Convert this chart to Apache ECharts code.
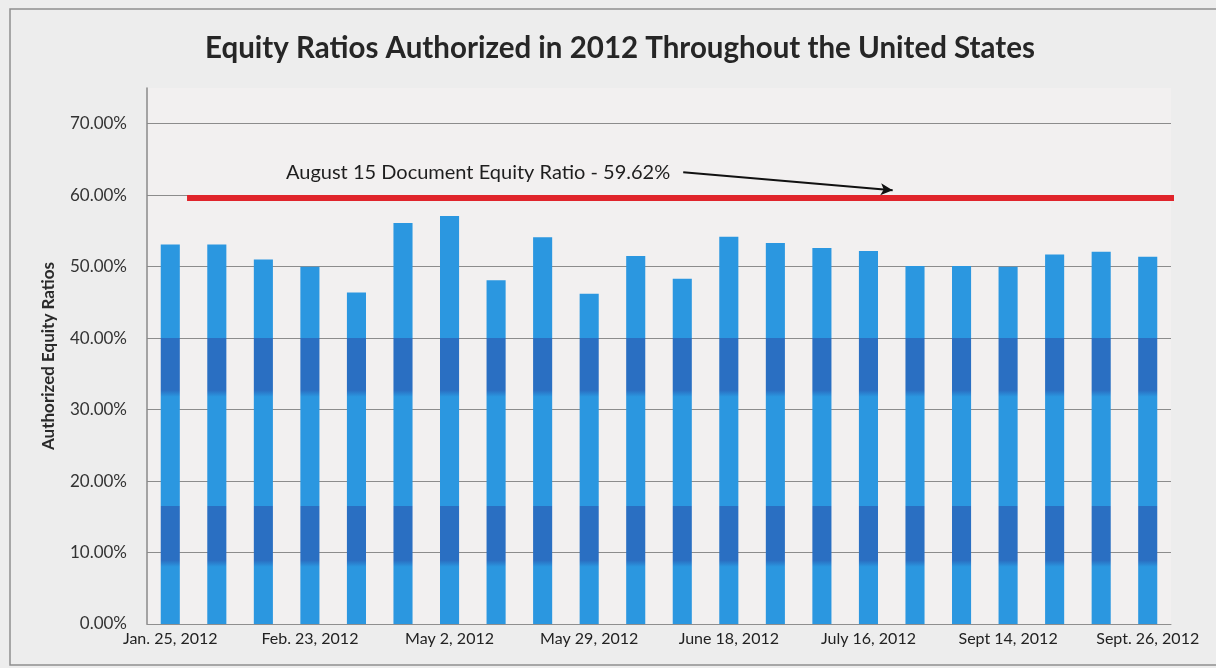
<!DOCTYPE html>
<html>
<head>
<meta charset="utf-8">
<script src="https://cdn.jsdelivr.net/npm/echarts@6/dist/echarts.min.js"></script>
<style>
  html, body { margin: 0; padding: 0; background: #f3f3f3; }
  #chart { width: 1216px; height: 668px; }
</style>
</head>
<body>
<div id="chart"></div>
<script>
// Authorized equity ratios (%) for each 2012 decision, in date order
const equityRatios = [53.1, 53.1, 51.0, 50.0, 46.4, 56.1, 57.1, 48.1, 54.1, 46.2, 51.5,
                      48.3, 54.2, 53.3, 52.6, 52.2, 50.1, 50.1, 50.0, 51.7, 52.1, 51.4];
// Dates printed under the axis (every third decision)
const tickLabels = ['Jan. 25, 2012', 'Feb. 23, 2012', 'May 2, 2012', 'May 29, 2012',
                    'June 18, 2012', 'July 16, 2012', 'Sept 14, 2012', 'Sept. 26, 2012'];
const labelStep = 3;
// Reference level from the August 15 document
const documentRatio = 59.62;
const documentNote = 'August 15 Document Equity Ratio - ' + documentRatio.toFixed(2) + '%';
// Drawn reference bar and arrow, in category-index units along x
const refLineSpan = [0.36, 21.67];
const arrowFrom = [11.02, 63.2];
const arrowTo = [15.52, 60.7];
// Darker shading bands on the bars (value ranges)
const shadeBands = [[8, 16.5], [31.8, 40]];

const categories = equityRatios.map((_, i) => (i % labelStep === 0 ? tickLabels[i / labelStep] : ''));

const chart = echarts.init(document.getElementById('chart'), null, { renderer: 'canvas' });

const LIGHT = '#2b97e0';
const DARK = '#2a6fc2';

function barFill() {
  const yTop = chart.convertToPixel({ yAxisIndex: 0 }, 75);
  const yBot = chart.convertToPixel({ yAxisIndex: 0 }, 0);
  const f = v => (75 - v) / 75;
  const stops = [{ offset: 0, color: LIGHT }];
  shadeBands.slice().reverse().forEach(([lo, hi]) => {
    stops.push({ offset: f(hi) - 0.001, color: LIGHT });
    stops.push({ offset: f(hi), color: DARK });
    stops.push({ offset: f(lo) - 0.012, color: DARK });
    stops.push({ offset: f(lo), color: LIGHT });
  });
  stops.push({ offset: 1, color: LIGHT });
  return new echarts.graphic.LinearGradient(0, yTop, 0, yBot, stops, true);
}

const option = {
  backgroundColor: '#ededed',
  animation: false,
  textStyle: { fontFamily: 'Lato' },
  title: {
    text: 'Equity Ratios Authorized in 2012 Throughout the United States',
    left: 200,
    top: 28,
    textStyle: { fontFamily: 'Lato', fontWeight: 'bold', fontSize: 29.5, color: '#262626' }
  },
  grid: {
    left: 147, right: 45, top: 88, bottom: 44, containLabel: false,
    show: true, backgroundColor: '#f2f0f0', borderWidth: 0
  },
  xAxis: [
    {
      type: 'category',
      data: categories,
      axisLine: { show: true, lineStyle: { color: '#8f8f8f', width: 1 } },
      axisTick: { show: false },
      axisLabel: { interval: labelStep - 1, color: '#222', fontSize: 16, margin: 7 }
    },
    {
      type: 'value', min: -0.5, max: equityRatios.length - 0.5, show: false
    }
  ],
  yAxis: {
    type: 'value',
    min: 0, max: 75, interval: 10,
    name: 'Authorized Equity Ratios',
    nameLocation: 'middle',
    nameGap: 90,
    nameTextStyle: { fontFamily: 'Lato', fontWeight: 'bold', fontSize: 17, color: '#2a2a2a' },
    axisLine: { show: true, onZero: false, lineStyle: { color: '#8a8a8a', width: 1.5 } },
    axisTick: { show: false },
    axisLabel: {
      formatter: v => v.toFixed(2) + '%', color: '#333', fontSize: 17, margin: 20,
      showMaxLabel: false
    },
    splitLine: { show: true, showMaxLine: false, lineStyle: { color: '#8c8c8c', width: 1 } }
  },
  graphic: [
    {
      type: 'rect', silent: true, z: -1,
      shape: { x: 10, y: 9, width: 1240, height: 656 },
      style: { fill: 'none', stroke: '#8e8e8e', lineWidth: 1.5 }
    }
  ],
  series: [
    {
      name: 'Authorized Equity Ratio',
      type: 'bar',
      data: equityRatios,
      barWidth: '41%',
      itemStyle: { color: LIGHT }
    },
    {
      name: 'August 15 Document',
      type: 'line',
      xAxisIndex: 1,
      data: refLineSpan.map(x => [x, documentRatio]),
      symbol: 'none',
      clip: false,
      lineStyle: { color: '#e0242b', width: 6, cap: 'butt' },
      z: 3
    },
    {
      name: 'note',
      type: 'line',
      xAxisIndex: 1,
      data: [],
      symbol: 'none',
      z: 4,
      markLine: {
        silent: true,
        symbol: ['none', 'arrow'],
        symbolSize: [9, 12],
        lineStyle: { color: '#111', width: 2, type: 'solid' },
        label: { show: false },
        data: [[{ coord: arrowFrom }, { coord: arrowTo }]]
      },
      markPoint: {
        silent: true,
        symbol: 'circle', symbolSize: 0,
        label: {
          show: true, position: 'left', distance: 13,
          formatter: documentNote,
          color: '#1e1e1e', fontSize: 20, fontFamily: 'Lato'
        },
        data: [{ coord: arrowFrom }]
      }
    }
  ]
};

chart.setOption(option);
chart.setOption({ series: [{ itemStyle: { color: barFill() } }] });
</script>
</body>
</html>
